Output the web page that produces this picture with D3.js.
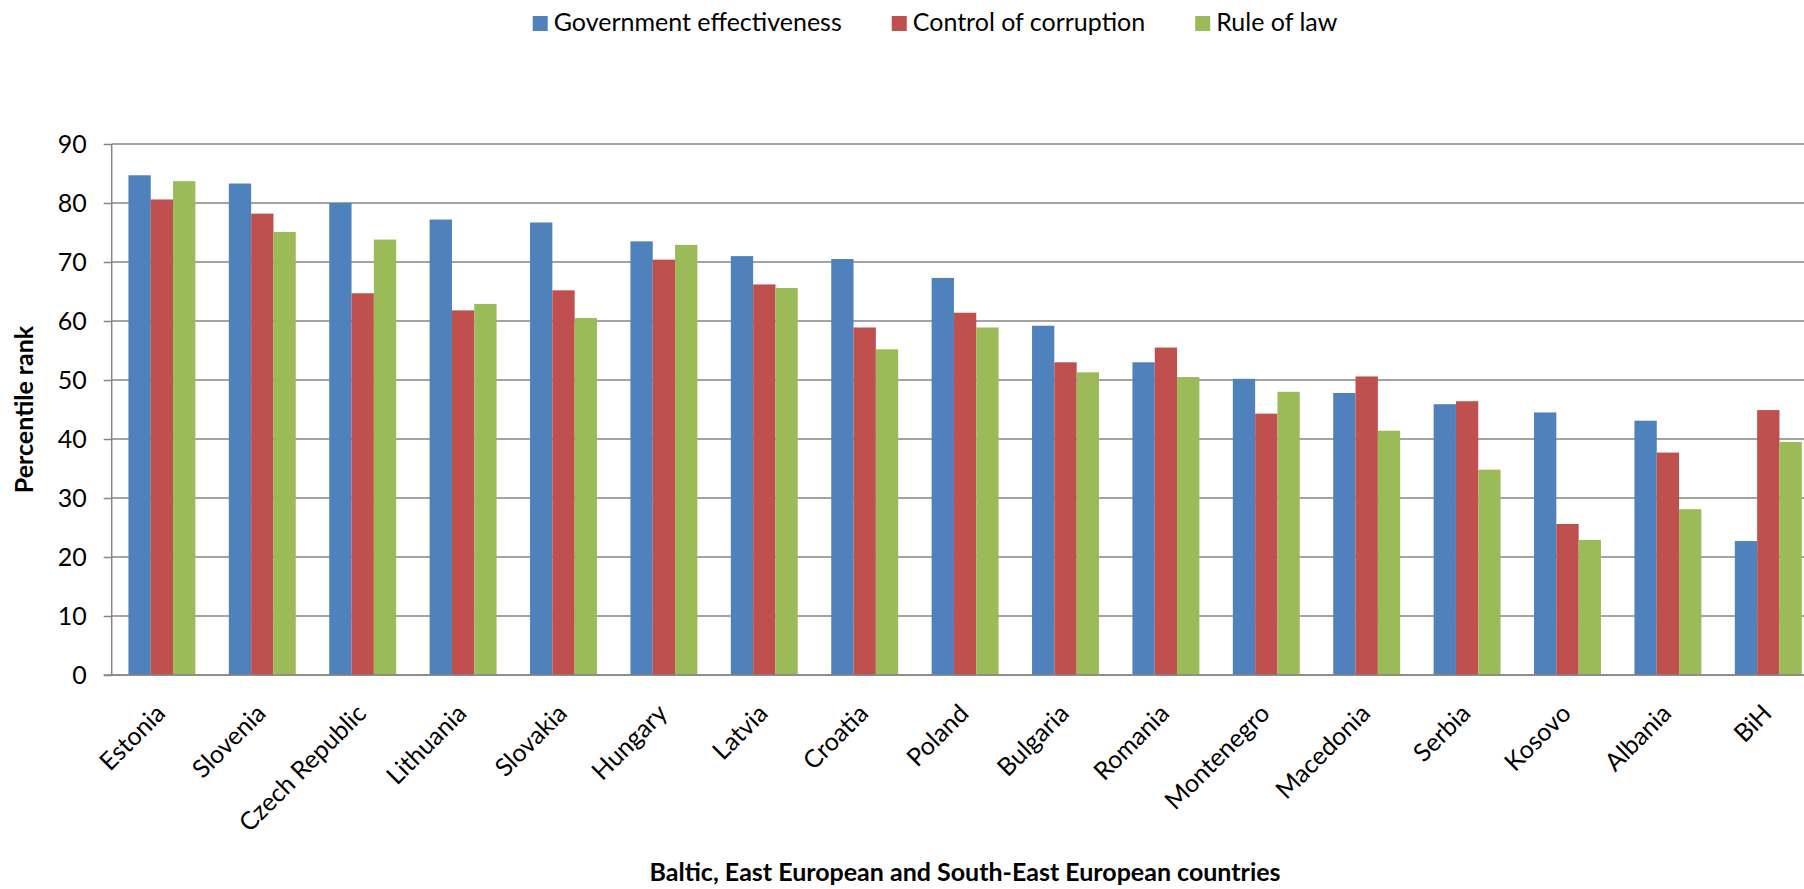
<!DOCTYPE html>
<html lang="en">
<head>
    <meta charset="UTF-8">
    <title>Governance indicators</title>
    <style>
        body {
            margin: 0;
            background-color: white;
        }
        svg {
            display: block;
            font-family: Lato, Calibri, sans-serif;
        }
    </style>
</head>
<body>
    <svg width="1804" height="889"></svg>
    <script src="https://d3js.org/d3.v7.min.js"></script>
    <script>
        const countries = ["Estonia", "Slovenia", "Czech Republic", "Lithuania", "Slovakia", "Hungary",
            "Latvia", "Croatia", "Poland", "Bulgaria", "Romania", "Montenegro", "Macedonia",
            "Serbia", "Kosovo", "Albania", "BiH"];
        const seriesNames = ["Government effectiveness", "Control of corruption", "Rule of law"];
        const seriesColors = ["#4F81BD", "#C0504D", "#9BBB59"];
        const govEffectiveness = [84.7, 83.3, 80.0, 77.2, 76.7, 73.5, 71.0, 70.5, 67.3, 59.2, 53.0, 50.2, 47.8, 45.9, 44.5, 43.1, 22.7];
        const controlOfCorruption = [80.6, 78.2, 64.7, 61.8, 65.2, 70.4, 66.2, 58.9, 61.4, 53.0, 55.5, 44.3, 50.6, 46.4, 25.6, 37.7, 44.9];
        const ruleOfLaw = [83.7, 75.1, 73.8, 62.9, 60.5, 72.9, 65.6, 55.2, 58.9, 51.3, 50.5, 48.0, 41.4, 34.8, 22.9, 28.1, 39.5];
        const yTicks = [0, 10, 20, 30, 40, 50, 60, 70, 80, 90];
        const yTitle = "Percentile rank";
        const xTitle = "Baltic, East European and South-East European countries";

        const allSeries = [govEffectiveness, controlOfCorruption, ruleOfLaw];
        const rows = countries.map((c, i) => ({
            country: c,
            values: seriesNames.map((s, j) => ({ key: s, value: allSeries[j][i], color: seriesColors[j] }))
        }));

        const svg = d3.select("svg");
        const plotLeft = 111.7, plotRight = 1818.5, plotTop = 144, plotBottom = 675;
        const fontSize = 25;

        const x0 = d3.scaleBand().domain(countries).range([plotLeft, plotRight]);
        const x1 = d3.scaleBand().domain(seriesNames).range([0, x0.bandwidth()])
            .paddingInner(0).paddingOuter(0.75);
        const y = d3.scaleLinear().domain([0, 90]).range([plotBottom, plotTop]);

        // gridlines
        svg.append("g")
            .selectAll("line")
            .data(yTicks)
            .join("line")
            .attr("x1", plotLeft).attr("x2", plotRight)
            .attr("y1", d => y(d)).attr("y2", d => y(d))
            .attr("stroke", "#868686")
            .attr("stroke-width", 1.5);

        // y axis
        const yAxis = svg.append("g")
            .attr("transform", `translate(${plotLeft},0)`)
            .call(d3.axisLeft(y).tickValues(yTicks).tickSize(8).tickPadding(17));
        yAxis.select(".domain").attr("stroke", "#868686").attr("stroke-width", 1.5)
            .attr("d", `M0,${plotTop}V${plotBottom}`);
        yAxis.selectAll(".tick line").attr("stroke", "#868686").attr("stroke-width", 1.5);
        yAxis.selectAll(".tick text")
            .attr("font-family", "Lato, Calibri, sans-serif")
            .attr("font-size", fontSize)
            .attr("fill", "#000");

        // bars
        svg.append("g")
            .selectAll("g")
            .data(rows)
            .join("g")
            .attr("transform", d => `translate(${x0(d.country)},0)`)
            .selectAll("rect")
            .data(d => d.values)
            .join("rect")
            .attr("x", d => x1(d.key))
            .attr("width", x1.bandwidth())
            .attr("y", d => y(d.value))
            .attr("height", d => y(0) - y(d.value))
            .attr("fill", d => d.color);

        // baseline on top of bars
        svg.append("line")
            .attr("x1", plotLeft - 8).attr("x2", plotRight)
            .attr("y1", y(0)).attr("y2", y(0))
            .attr("stroke", "#868686").attr("stroke-width", 1.5);

        // x labels
        svg.append("g")
            .selectAll("text")
            .data(countries)
            .join("text")
            .attr("transform", d => `translate(${x0(d) + x0.bandwidth() / 2 + 5},${plotBottom + 40}) rotate(-45)`)
            .attr("text-anchor", "end")
            .attr("font-size", fontSize)
            .text(d => d);

        // axis titles
        svg.append("text")
            .attr("transform", `translate(33,${(plotTop + plotBottom) / 2}) rotate(-90)`)
            .attr("text-anchor", "middle")
            .attr("font-size", fontSize)
            .attr("font-weight", "bold")
            .text(yTitle);

        svg.append("text")
            .attr("x", (plotLeft + plotRight) / 2)
            .attr("y", 881)
            .attr("text-anchor", "middle")
            .attr("font-size", fontSize)
            .attr("font-weight", "bold")
            .text(xTitle);

        // legend
        const legend = svg.append("g");
        let lx = 0;
        seriesNames.forEach((s, i) => {
            const item = legend.append("g").attr("transform", `translate(${lx},0)`);
            item.append("rect").attr("x", 0).attr("y", 16).attr("width", 15).attr("height", 15)
                .attr("fill", seriesColors[i]);
            const t = item.append("text").attr("x", 21).attr("y", 31)
                .attr("font-size", fontSize).text(s);
            lx += 21 + t.node().getComputedTextLength() + 50;
        });
        const legendWidth = lx - 50;
        legend.attr("transform", `translate(${935 - legendWidth / 2},0)`);
    </script>
</body>
</html>
